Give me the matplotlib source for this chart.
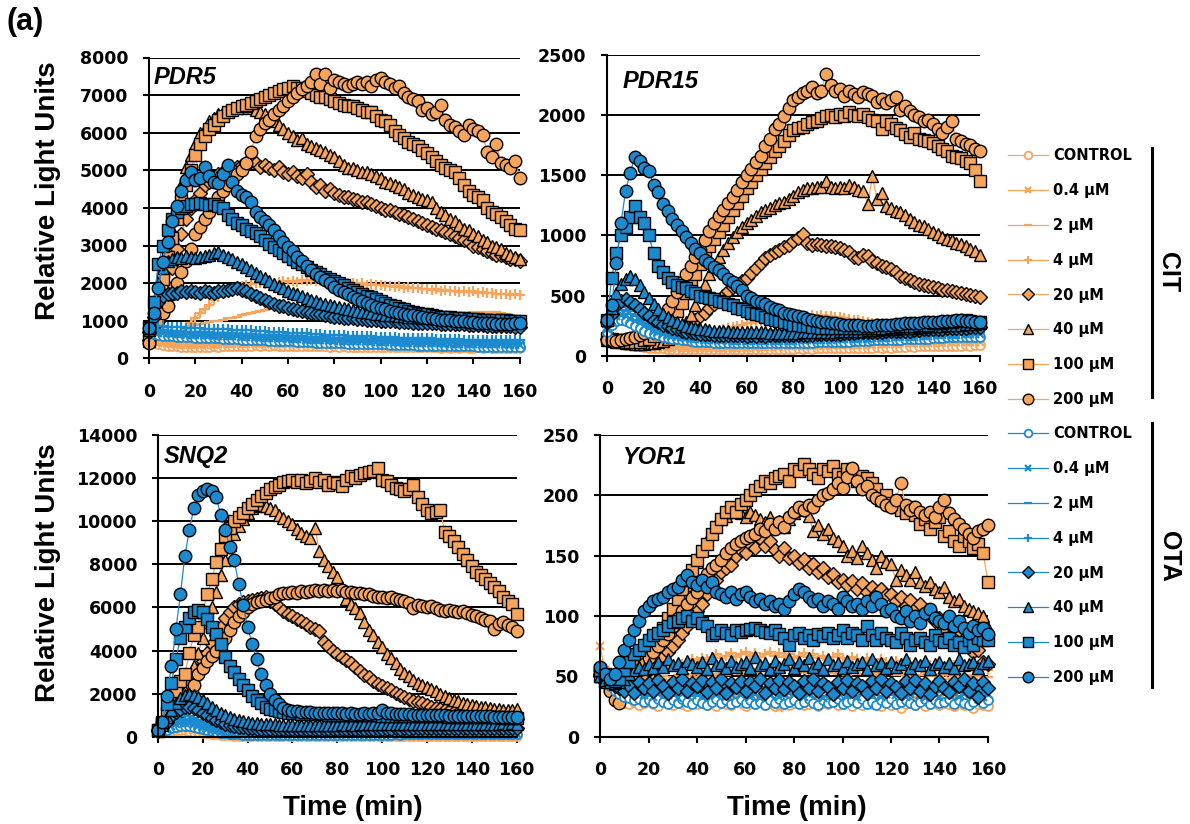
import matplotlib
matplotlib.use('Agg')
import matplotlib.pyplot as plt
from matplotlib.lines import Line2D

plt.rcParams['font.family'] = 'DejaVu Sans'
plt.rcParams['font.weight'] = 'bold'

# reads every 2 min
time_min = list(range(0, 161, 2))
dose_labels = ['CONTROL', '0.4 µM', '2 µM', '4 µM', '20 µM', '40 µM', '100 µM', '200 µM']

# ---------------- PDR5 ----------------
pdr5_cit_control = [
    430, 400, 380, 360, 340, 330, 320, 310, 300, 300,
    300, 310, 300, 310, 320, 310, 320, 330, 320, 330,
    340, 330, 340, 350, 340, 350, 340, 350, 340, 330,
    340, 330, 340, 330, 320, 330, 320, 330, 320, 310,
    320, 310, 320, 310, 300, 310, 300, 310, 300, 300,
    300, 310, 300, 290, 300, 290, 300, 290, 300, 290,
    290, 300, 290, 280, 290, 280, 290, 280, 290, 280,
    280, 290, 280, 290, 280, 270, 280, 270, 280, 270,
    280]
pdr5_cit_04 = [
    480, 450, 420, 400, 380, 370, 360, 360, 350, 350,
    360, 350, 360, 370, 360, 370, 380, 370, 380, 390,
    380, 390, 400, 390, 400, 390, 400, 390, 380, 390,
    380, 390, 380, 370, 380, 370, 360, 370, 360, 350,
    360, 350, 360, 350, 340, 350, 340, 350, 340, 330,
    340, 330, 340, 330, 320, 330, 320, 330, 320, 310,
    320, 310, 320, 310, 300, 310, 300, 310, 300, 300,
    310, 300, 310, 300, 290, 300, 290, 300, 290, 300,
    290]
pdr5_cit_2 = [
    500, 480, 470, 500, 550, 600, 650, 700, 780, 850,
    880, 900, 930, 960, 980, 1000, 1030, 1060, 1080, 1110,
    1140, 1170, 1200, 1230, 1260, 1290, 1300, 1320, 1340, 1360,
    1350, 1360, 1340, 1350, 1330, 1340, 1320, 1330, 1310, 1300,
    1310, 1290, 1300, 1280, 1290, 1270, 1280, 1260, 1270, 1250,
    1260, 1240, 1250, 1230, 1240, 1220, 1230, 1210, 1220, 1200,
    1210, 1190, 1200, 1180, 1190, 1170, 1180, 1200, 1190, 1210,
    1220, 1200, 1230, 1210, 1240, 1220, 1200, 1180, 1150, 1120,
    1100]
pdr5_cit_4 = [
    480, 460, 450, 470, 500, 540, 600, 700, 820, 950,
    1080, 1200, 1320, 1430, 1540, 1630, 1720, 1790, 1850, 1900,
    1920, 1950, 1970, 1990, 2000, 1980, 2010, 2000, 2020, 2050,
    2030, 2060, 2040, 2070, 2050, 2080, 2060, 2050, 2070, 2040,
    2050, 2020, 2030, 2000, 2010, 1980, 1990, 1960, 1970, 1940,
    1950, 1920, 1930, 1900, 1910, 1880, 1890, 1860, 1870, 1840,
    1850, 1820, 1830, 1800, 1810, 1780, 1790, 1760, 1800, 1770,
    1780, 1750, 1760, 1730, 1740, 1710, 1720, 1700, 1690, 1700,
    1680]
pdr5_cit_20 = [
    500, 700, 1000, 1400, 1900, 2400, 2900, 3300, 3700, 4000,
    4200, 4400, 4600, 4700, 4800, 4900, 4950, 5000, 5050, 5100,
    5150, 5200, 5250, 5200, 5100, 5150, 5050, 5000, 5100, 4950,
    4900, 4950, 4850, 4800, 4900, 4700, 4550, 4600, 4450, 4500,
    4400, 4350, 4300, 4300, 4250, 4200, 4150, 4150, 4100, 4050,
    4000, 3950, 3950, 3900, 3850, 3800, 3750, 3700, 3650, 3600,
    3550, 3500, 3450, 3400, 3350, 3300, 3250, 3200, 3150, 3100,
    3000, 2950, 2900, 2850, 2800, 2750, 2750, 2700, 2650, 2650,
    2600]
pdr5_cit_40 = [
    450, 800, 1300, 2000, 2700, 3400, 4000, 4600, 5100, 5400,
    5700, 6000, 6100, 6300, 6400, 6500, 6550, 6600, 6650, 6700,
    6700, 6650, 6700, 6600, 6550, 6500, 6400, 6300, 6200, 6100,
    6000, 5900, 5800, 5850, 5700, 5650, 5600, 5550, 5500, 5400,
    5350, 5250, 5150, 5050, 5050, 5000, 4950, 4950, 4900, 4850,
    4800, 4700, 4650, 4600, 4550, 4500, 4400, 4350, 4300, 4250,
    4200, 4150, 4000, 3900, 3800, 3700, 3650, 3550, 3450, 3400,
    3300, 3250, 3150, 3100, 3000, 2950, 2900, 2800, 2750, 2700,
    2650]
pdr5_cit_100 = [
    500, 900, 1500, 2100, 2700, 3200, 3700, 4200, 4600, 5000,
    5400, 5700, 5900, 6100, 6200, 6350, 6450, 6550, 6600, 6650,
    6700, 6750, 6800, 6850, 6900, 6950, 7000, 7050, 7100, 7150,
    7200, 7250, 7200, 7200, 7100, 7050, 7000, 6950, 6950, 6900,
    6850, 6800, 6750, 6700, 6700, 6650, 6600, 6550, 6550, 6450,
    6350, 6300, 6200, 6050, 5950, 5850, 5750, 5700, 5650, 5550,
    5450, 5350, 5250, 5150, 5050, 5000, 4950, 4800, 4600, 4450,
    4350, 4300, 4200, 4000, 3900, 3850, 3750, 3650, 3550, 3450,
    3400]
pdr5_cit_200 = [
    420, 700, 1000, 1200, 1400, 1700, 2000, 2300, 2600, 2900,
    3300, 3500, 3700, 3900, 4100, 4300, 4450, 4600, 4750, 4900,
    5000, 5200, 5500, 5900, 6100, 6250, 6350, 6500, 6600, 6700,
    6850, 6950, 7050, 7150, 7250, 7350, 7550, 7300, 7550, 7200,
    7400, 7350, 7300, 7250, 7300, 7350, 7300, 7350, 7250, 7400,
    7450, 7350, 7300, 7200, 7250, 7050, 6950, 6900, 6850, 6600,
    6650, 6500, 6550, 6750, 6350, 6200, 6150, 6050, 5950, 6200,
    6100, 6050, 5950, 5500, 5350, 5700, 5200, 5150, 5050, 5250,
    4800]

pdr5_ota_control = [
    700, 650, 620, 600, 590, 580, 570, 570, 560, 560,
    550, 550, 540, 540, 530, 530, 520, 520, 510, 510,
    500, 500, 490, 490, 480, 480, 470, 470, 460, 460,
    450, 450, 440, 440, 430, 430, 420, 420, 410, 410,
    400, 400, 400, 390, 390, 390, 380, 380, 380, 370,
    370, 370, 360, 360, 360, 350, 350, 350, 340, 340,
    340, 340, 330, 330, 330, 330, 320, 320, 320, 320,
    320, 310, 310, 310, 310, 300, 300, 300, 300, 300,
    300]
pdr5_ota_04 = [
    760, 700, 680, 670, 660, 650, 640, 640, 630, 630,
    620, 620, 610, 610, 600, 600, 590, 590, 580, 580,
    570, 570, 560, 560, 550, 550, 540, 540, 530, 530,
    520, 520, 510, 510, 500, 500, 490, 490, 480, 480,
    470, 470, 460, 460, 460, 450, 450, 450, 440, 440,
    440, 430, 430, 430, 420, 420, 420, 410, 410, 410,
    400, 400, 400, 400, 390, 390, 390, 390, 380, 380,
    380, 380, 380, 370, 370, 370, 370, 370, 360, 360,
    360]
pdr5_ota_2 = [
    800, 760, 740, 730, 720, 720, 710, 710, 700, 700,
    690, 690, 680, 680, 670, 670, 660, 660, 650, 650,
    640, 640, 630, 630, 620, 620, 610, 610, 600, 600,
    590, 590, 580, 580, 570, 570, 560, 560, 550, 550,
    540, 540, 530, 530, 520, 520, 510, 510, 500, 500,
    500, 490, 490, 480, 480, 480, 470, 470, 470, 460,
    460, 460, 450, 450, 450, 450, 440, 440, 440, 440,
    430, 430, 430, 430, 420, 420, 420, 420, 420, 410,
    410]
pdr5_ota_4 = [
    850, 880, 860, 850, 840, 830, 830, 820, 810, 810,
    800, 800, 790, 790, 780, 780, 770, 770, 760, 760,
    750, 740, 740, 730, 720, 720, 710, 700, 700, 690,
    680, 680, 670, 660, 660, 650, 640, 640, 630, 620,
    620, 610, 610, 600, 600, 590, 590, 580, 580, 570,
    570, 560, 560, 560, 550, 550, 540, 540, 540, 530,
    530, 530, 520, 520, 520, 510, 510, 510, 500, 500,
    500, 500, 490, 490, 490, 490, 480, 480, 480, 480,
    480]
pdr5_ota_20 = [
    700, 1100, 1500, 1650, 1700, 1750, 1750, 1780, 1760, 1790,
    1770, 1750, 1780, 1760, 1750, 1790, 1800, 1820, 1850, 1870,
    1820, 1780, 1700, 1650, 1600, 1550, 1500, 1450, 1400, 1380,
    1350, 1320, 1290, 1260, 1240, 1210, 1190, 1170, 1150, 1130,
    1110, 1100, 1080, 1070, 1060, 1050, 1040, 1030, 1020, 1010,
    1000, 990, 980, 980, 970, 960, 960, 950, 950, 940,
    940, 930, 930, 920, 920, 910, 910, 900, 900, 890,
    890, 880, 880, 870, 870, 860, 860, 850, 850, 840,
    840]
pdr5_ota_40 = [
    750, 1300, 2000, 2400, 2600, 2650, 2700, 2680, 2720, 2700,
    2680, 2700, 2720, 2750, 2800, 2820, 2750, 2700, 2650, 2550,
    2500, 2420, 2350, 2270, 2200, 2130, 2060, 1980, 1920, 1860,
    1800, 1750, 1700, 1650, 1600, 1560, 1520, 1480, 1450, 1420,
    1390, 1360, 1330, 1300, 1280, 1260, 1240, 1220, 1200, 1190,
    1170, 1160, 1150, 1140, 1130, 1120, 1110, 1100, 1090, 1080,
    1080, 1070, 1060, 1060, 1050, 1050, 1040, 1040, 1030, 1030,
    1020, 1020, 1010, 1010, 1000, 1000, 1000, 990, 990, 980,
    980]
pdr5_ota_100 = [
    800, 1500, 2500, 3000, 3400, 3700, 3900, 4000, 4050, 4100,
    4100, 4120, 4100, 4080, 4100, 4050, 4000, 3800, 3700, 3600,
    3550, 3450, 3380, 3320, 3250, 3150, 3050, 2950, 2880, 2800,
    2720, 2640, 2570, 2500, 2430, 2360, 2300, 2230, 2170, 2110,
    2050, 2000, 1940, 1880, 1820, 1770, 1720, 1670, 1620, 1570,
    1520, 1470, 1420, 1380, 1340, 1300, 1270, 1240, 1210, 1190,
    1170, 1150, 1130, 1110, 1100, 1090, 1080, 1070, 1060, 1050,
    1040, 1040, 1030, 1030, 1020, 1020, 1010, 1010, 1000, 1000,
    1000]
pdr5_ota_200 = [
    800, 1200, 1870, 2560, 3100, 3650, 4050, 4450, 4750, 4950,
    4750, 4800, 5100, 4850, 4700, 4650, 4900, 5150, 4700, 4450,
    4350, 4300, 4150, 3900, 3750, 3650, 3550, 3400, 3250, 3100,
    2950, 2850, 2700, 2600, 2450, 2350, 2250, 2150, 2080, 2000,
    1900, 1820, 1760, 1700, 1640, 1580, 1520, 1470, 1420, 1370,
    1340, 1300, 1270, 1240, 1210, 1180, 1160, 1140, 1120, 1100,
    1080, 1060, 1050, 1030, 1020, 1010, 1000, 990, 980, 970,
    960, 950, 940, 930, 930, 920, 910, 900, 900, 940,
    950]

# ---------------- PDR15 ----------------
pdr15_cit_control = [
    130, 120, 110, 100, 95, 90, 85, 80, 75, 70,
    70, 65, 65, 60, 60, 60, 55, 55, 55, 55,
    55, 55, 55, 55, 55, 55, 55, 55, 55, 55,
    55, 60, 55, 60, 55, 60, 55, 60, 60, 60,
    60, 65, 60, 65, 60, 65, 65, 65, 65, 65,
    65, 70, 65, 70, 70, 70, 70, 70, 75, 70,
    75, 70, 75, 75, 75, 80, 75, 80, 80, 80,
    80, 85, 80, 85, 85, 85, 85, 90, 85, 90,
    90]
pdr15_cit_04 = [
    150, 140, 130, 120, 110, 100, 95, 90, 85, 80,
    80, 75, 75, 70, 70, 70, 65, 65, 65, 65,
    65, 65, 65, 70, 65, 70, 65, 70, 70, 70,
    70, 75, 70, 75, 75, 75, 80, 75, 80, 80,
    80, 85, 80, 85, 85, 85, 90, 85, 90, 90,
    90, 95, 90, 95, 95, 95, 100, 95, 100, 100,
    100, 105, 100, 105, 105, 105, 110, 105, 110, 110,
    110, 115, 110, 115, 115, 115, 120, 115, 120, 120,
    120]
pdr15_cit_2 = [
    160, 155, 150, 140, 130, 120, 110, 100, 95, 90,
    85, 85, 80, 80, 80, 80, 80, 80, 80, 85,
    85, 85, 90, 90, 95, 95, 100, 100, 105, 105,
    110, 110, 115, 115, 120, 120, 125, 125, 130, 130,
    130, 135, 135, 135, 140, 140, 140, 140, 140, 140,
    140, 140, 140, 140, 140, 140, 140, 135, 140, 135,
    135, 135, 130, 135, 130, 130, 130, 130, 130, 130,
    130, 130, 130, 130, 130, 130, 130, 130, 130, 130,
    130]
pdr15_cit_4 = [
    150, 140, 130, 120, 110, 100, 95, 90, 90, 90,
    90, 95, 100, 105, 110, 120, 130, 140, 150, 160,
    170, 180, 190, 200, 210, 220, 230, 240, 250, 260,
    270, 275, 280, 290, 295, 300, 305, 310, 315, 320,
    325, 330, 335, 330, 340, 335, 340, 330, 335, 325,
    320, 315, 310, 300, 295, 290, 280, 275, 270, 260,
    255, 250, 245, 240, 235, 230, 225, 220, 215, 210,
    210, 205, 200, 200, 195, 195, 190, 190, 185, 185,
    180]
pdr15_cit_20 = [
    140, 135, 130, 125, 120, 115, 110, 105, 105, 110,
    115, 125, 140, 155, 170, 185, 200, 230, 260, 295,
    330, 360, 395, 430, 465, 500, 535, 570, 600, 620,
    650, 690, 730, 770, 810, 840, 860, 880, 900, 920,
    950, 980, 1010, 940, 920, 930, 920, 910, 915, 905,
    895, 880, 860, 820, 810, 840, 830, 790, 770, 750,
    740, 720, 700, 660, 650, 630, 610, 600, 590, 580,
    570, 560, 550, 545, 540, 530, 520, 510, 505, 500,
    490]
pdr15_cit_40 = [
    130, 125, 120, 115, 110, 105, 100, 100, 100, 105,
    110, 115, 125, 140, 160, 190, 230, 280, 340, 420,
    510, 600, 680, 750, 820, 880, 940, 990, 1030, 1070,
    1100, 1130, 1160, 1190, 1210, 1230, 1250, 1270, 1280, 1300,
    1330, 1360, 1380, 1390, 1390, 1400, 1400, 1450, 1400, 1390,
    1400, 1390, 1420, 1400, 1380, 1370, 1260, 1490, 1300, 1350,
    1240, 1230, 1200, 1190, 1170, 1140, 1110, 1090, 1080, 1050,
    1030, 1010, 990, 970, 960, 940, 930, 910, 890, 870,
    840]
pdr15_cit_100 = [
    150, 140, 130, 125, 120, 115, 115, 120, 130, 145,
    165, 190, 220, 260, 310, 370, 440, 520, 600, 680,
    760, 840, 910, 970, 1030, 1090, 1150, 1210, 1270, 1330,
    1390, 1440, 1500, 1550, 1600, 1650, 1700, 1740, 1780, 1830,
    1870, 1890, 1900, 1920, 1940, 1950, 1970, 1990, 2000, 1980,
    2010, 1990, 2020, 2000, 1990, 2010, 1980, 1960, 1950, 1880,
    1950, 1920, 1890, 1870, 1840, 1820, 1850, 1800, 1790, 1780,
    1770, 1740, 1720, 1700, 1660, 1650, 1640, 1620, 1600, 1540,
    1450]
pdr15_cit_200 = [
    130, 130, 125, 130, 140, 150, 160, 170, 190, 210,
    240, 280, 330, 390, 460, 530, 610, 680, 750, 820,
    880, 960, 1040, 1100, 1160, 1210, 1270, 1320, 1380, 1440,
    1500, 1550, 1610, 1660, 1740, 1800, 1880, 1920, 1990, 2060,
    2120, 2150, 2180, 2200, 2230, 2180, 2200, 2340, 2250, 2200,
    2210, 2160, 2200, 2170, 2150, 2190, 2170, 2160, 2110, 2130,
    2100, 2120, 2150, 2040, 2070, 2030, 2000, 1980, 1950, 1960,
    1920, 1880, 1850, 1900, 1950, 1800, 1780, 1760, 1750, 1720,
    1700]

pdr15_ota_control = [
    200, 260, 290, 300, 290, 270, 250, 230, 210, 190,
    180, 170, 160, 150, 145, 140, 135, 130, 125, 120,
    120, 115, 115, 110, 110, 110, 105, 105, 105, 105,
    105, 105, 105, 105, 105, 105, 105, 105, 105, 105,
    105, 110, 110, 110, 110, 115, 115, 115, 115, 120,
    120, 120, 120, 125, 125, 125, 125, 130, 130, 130,
    130, 135, 135, 135, 140, 140, 140, 145, 145, 145,
    150, 150, 150, 155, 155, 155, 160, 160, 160, 160,
    160]
pdr15_ota_04 = [
    220, 290, 330, 340, 330, 310, 290, 270, 250, 230,
    210, 195, 185, 175, 165, 160, 155, 150, 145, 140,
    140, 135, 135, 130, 130, 130, 125, 125, 125, 125,
    125, 125, 125, 125, 125, 125, 125, 125, 125, 125,
    125, 130, 130, 130, 130, 135, 135, 135, 135, 140,
    140, 140, 140, 145, 145, 145, 145, 150, 150, 150,
    150, 155, 155, 155, 160, 160, 160, 165, 165, 165,
    170, 170, 170, 175, 175, 175, 180, 180, 180, 180,
    180]
pdr15_ota_2 = [
    240, 320, 360, 380, 370, 350, 330, 300, 280, 260,
    240, 220, 205, 195, 185, 180, 175, 170, 165, 160,
    155, 155, 150, 150, 145, 145, 145, 140, 140, 140,
    140, 140, 140, 140, 140, 140, 140, 140, 140, 140,
    140, 145, 145, 145, 145, 150, 150, 150, 150, 155,
    155, 155, 155, 160, 160, 160, 160, 165, 165, 165,
    165, 170, 170, 170, 175, 175, 175, 180, 180, 180,
    185, 185, 185, 190, 190, 190, 195, 195, 195, 195,
    195]
pdr15_ota_4 = [
    260, 350, 400, 420, 410, 390, 370, 340, 310, 290,
    270, 250, 235, 220, 210, 200, 195, 190, 185, 180,
    175, 175, 170, 170, 165, 165, 165, 160, 160, 160,
    160, 160, 160, 160, 160, 160, 160, 160, 160, 160,
    160, 165, 165, 165, 165, 170, 170, 170, 170, 175,
    175, 175, 175, 180, 180, 180, 180, 185, 185, 185,
    185, 190, 190, 190, 195, 195, 195, 200, 200, 200,
    205, 205, 205, 210, 210, 210, 215, 215, 215, 215,
    215]
pdr15_ota_20 = [
    280, 350, 420, 460, 470, 450, 420, 390, 360, 330,
    300, 280, 260, 245, 230, 220, 210, 200, 195, 190,
    185, 180, 180, 175, 175, 170, 170, 170, 170, 170,
    165, 170, 165, 170, 165, 170, 170, 170, 170, 170,
    170, 175, 175, 175, 175, 180, 180, 180, 185, 185,
    185, 190, 190, 190, 195, 195, 195, 200, 200, 200,
    205, 205, 205, 210, 210, 210, 215, 215, 220, 220,
    220, 225, 225, 230, 230, 230, 235, 235, 240, 240,
    240]
pdr15_ota_40 = [
    300, 400, 520, 600, 640, 660, 640, 590, 530, 480,
    430, 390, 350, 320, 300, 280, 265, 250, 240, 230,
    225, 220, 215, 210, 210, 205, 205, 200, 200, 200,
    200, 195, 195, 195, 195, 190, 190, 190, 190, 190,
    190, 190, 195, 195, 195, 195, 200, 200, 200, 200,
    205, 205, 205, 210, 210, 210, 215, 215, 215, 220,
    220, 225, 225, 230, 230, 235, 235, 240, 240, 245,
    245, 250, 250, 255, 255, 260, 260, 265, 265, 265,
    270]
pdr15_ota_100 = [
    300, 650, 850, 1000, 1070, 1150, 1240, 1150, 1100, 1000,
    850, 750, 700, 650, 610, 590, 570, 560, 540, 520,
    500, 490, 480, 470, 460, 450, 430, 420, 400, 390,
    370, 360, 350, 340, 320, 310, 300, 290, 280, 270,
    260, 255, 250, 245, 240, 240, 235, 235, 230, 230,
    230, 230, 230, 230, 230, 230, 230, 235, 235, 235,
    235, 240, 240, 245, 245, 250, 250, 255, 260, 260,
    270, 270, 275, 280, 285, 290, 290, 295, 290, 285,
    280]
pdr15_ota_200 = [
    300, 420, 770, 1100, 1370, 1520, 1650, 1620, 1560, 1530,
    1420, 1360, 1260, 1200, 1140, 1090, 1040, 990, 940, 890,
    850, 800, 770, 740, 710, 680, 640, 610, 580, 550,
    500, 480, 460, 450, 430, 410, 390, 380, 360, 350,
    340, 330, 320, 310, 300, 290, 285, 280, 275, 270,
    265, 260, 260, 255, 255, 250, 250, 250, 255, 255,
    260, 260, 265, 265, 270, 270, 275, 275, 280, 280,
    285, 285, 290, 290, 290, 295, 295, 290, 290, 285,
    285]

# ---------------- SNQ2 ----------------
snq2_cit_control = [
    150, 180, 220, 260, 290, 300, 290, 270, 240, 210,
    180, 150, 125, 105, 90, 75, 65, 55, 50, 45,
    40, 40, 35, 35, 35, 30, 30, 30, 30, 30,
    30, 28, 30, 29, 31, 30, 28, 30, 29, 30,
    31, 29, 30, 28, 30, 31, 29, 30, 28, 30,
    29, 31, 30, 28, 30, 29, 30, 31, 29, 30,
    28, 30, 31, 29, 30, 28, 30, 29, 31, 30,
    28, 30, 29, 30, 31, 29, 30, 28, 30, 31,
    30]
snq2_cit_04 = [
    150, 200, 260, 320, 380, 410, 400, 370, 330, 280,
    240, 200, 165, 135, 110, 90, 75, 65, 55, 50,
    45, 45, 40, 40, 40, 35, 35, 35, 35, 35,
    35, 36, 34, 35, 37, 35, 34, 36, 35, 34,
    36, 35, 34, 35, 36, 34, 35, 37, 35, 34,
    35, 36, 34, 35, 35, 37, 34, 36, 35, 34,
    36, 35, 34, 35, 37, 35, 34, 36, 35, 34,
    35, 36, 34, 35, 37, 35, 34, 36, 35, 35,
    35]
snq2_cit_2 = [
    160, 220, 300, 390, 480, 540, 550, 520, 460, 390,
    330, 270, 220, 180, 145, 115, 95, 80, 70, 60,
    55, 50, 50, 45, 45, 45, 40, 40, 40, 40,
    40, 42, 39, 41, 40, 42, 39, 40, 41, 40,
    42, 40, 39, 41, 40, 42, 40, 39, 41, 40,
    40, 42, 39, 41, 40, 42, 40, 39, 41, 40,
    42, 40, 39, 41, 40, 42, 40, 39, 41, 40,
    40, 42, 39, 41, 40, 42, 40, 39, 41, 40,
    40]
snq2_cit_4 = [
    170, 250, 350, 470, 590, 680, 700, 660, 590, 510,
    430, 360, 295, 240, 195, 155, 125, 100, 85, 75,
    65, 60, 55, 55, 50, 50, 50, 45, 45, 45,
    45, 47, 44, 46, 45, 47, 44, 46, 45, 47,
    46, 44, 47, 45, 46, 44, 47, 45, 46, 44,
    47, 45, 46, 44, 47, 45, 46, 44, 47, 45,
    46, 44, 47, 45, 46, 44, 47, 45, 46, 44,
    47, 45, 46, 44, 47, 45, 46, 44, 47, 45,
    46]
snq2_cit_20 = [
    300, 400, 600, 900, 1200, 1500, 1900, 2300, 2700, 3100,
    3500, 3900, 4300, 4700, 5100, 5500, 5800, 6000, 6150, 6250,
    6300, 6350, 6400, 6450, 6500, 6300, 6150, 6000, 5850, 5700,
    5600, 5450, 5350, 5250, 5100, 5000, 4900, 4400, 4200, 4000,
    3850, 3700, 3550, 3400, 3250, 3050, 2850, 2750, 2600, 2450,
    2350, 2250, 2150, 2050, 1950, 1850, 1750, 1650, 1600, 1550,
    1450, 1400, 1350, 1300, 1250, 1200, 1150, 1100, 1060, 1030,
    1000, 980, 960, 940, 920, 900, 890, 870, 860, 850,
    840]
snq2_cit_40 = [
    300, 400, 600, 900, 1200, 1600, 2100, 2700, 3300, 3900,
    4600, 5300, 6000, 6700, 7500, 8200, 8900, 9400, 9800, 10100,
    10400, 10600, 10700, 10750, 10700, 10600, 10500, 10300, 10150, 10000,
    9850, 9650, 9450, 9300, 9200, 9700, 8600, 8200, 7900, 7650,
    7400, 6900, 6400, 6150, 5950, 5750, 5300, 4950, 4700, 4400,
    4150, 3850, 3650, 3400, 3150, 2950, 2800, 2650, 2500, 2400,
    2300, 2200, 2100, 2000, 1900, 1800, 1720, 1650, 1580, 1520,
    1470, 1420, 1390, 1360, 1330, 1300, 1280, 1260, 1250, 1230,
    1300]
snq2_cit_100 = [
    300, 600, 1100, 1600, 2100, 2600, 2900, 3900, 4700, 5100,
    5800, 6600, 7300, 8100, 8700, 9300, 9700, 10000, 10200, 10400,
    10600, 10800, 11000, 11150, 11300, 11500, 11600, 11700, 11800, 11850,
    11900, 11800, 11900, 11750, 11850, 12000, 11800, 11900, 11700, 11800,
    11750, 11650, 11900, 12100, 12000, 12150, 12250, 12300, 12350, 12450,
    11900, 11850, 11700, 11550, 11500, 11400, 11500, 11700, 11100, 10800,
    10500, 10400, 10450, 10500, 9500, 9300, 9100, 8800, 8500, 8200,
    7900, 7650, 7500, 7300, 7150, 6950, 6750, 6500, 6300, 6150,
    5700]
snq2_cit_200 = [
    300, 400, 550, 750, 950, 1200, 1500, 1900, 2400, 2900,
    3200, 3500, 3750, 4000, 4300, 4600, 4950, 5300, 5600, 5800,
    6000, 6150, 6250, 6300, 6350, 6450, 6500, 6600, 6650, 6650,
    6700, 6680, 6750, 6720, 6780, 6800, 6750, 6820, 6780, 6800,
    6750, 6800, 6720, 6700, 6650, 6680, 6600, 6620, 6550, 6500,
    6480, 6450, 6500, 6400, 6350, 6300, 6200, 5950, 6100, 6050,
    6000, 6050, 5950, 5900, 5850, 5900, 5850, 5800, 5850, 5750,
    5650, 5600, 5500, 5400, 5350, 5000, 5250, 5300, 5200, 5100,
    4900]

snq2_ota_control = [
    200, 260, 330, 400, 450, 490, 500, 480, 440, 390,
    340, 290, 250, 210, 180, 155, 135, 120, 110, 100,
    95, 90, 90, 90, 90, 90, 90, 90, 90, 90,
    90, 92, 91, 93, 92, 94, 93, 95, 94, 96,
    95, 97, 96, 98, 97, 99, 98, 100, 99, 101,
    100, 102, 101, 103, 102, 104, 103, 105, 104, 106,
    105, 107, 106, 108, 107, 109, 108, 110, 109, 111,
    110, 112, 111, 113, 112, 114, 113, 115, 114, 116,
    115]
snq2_ota_04 = [
    220, 300, 400, 500, 580, 630, 650, 620, 570, 500,
    430, 370, 310, 260, 220, 190, 165, 145, 130, 120,
    115, 110, 110, 110, 110, 110, 110, 110, 110, 110,
    110, 112, 111, 113, 112, 114, 113, 115, 114, 116,
    115, 117, 116, 118, 117, 119, 118, 120, 119, 121,
    120, 122, 121, 123, 122, 124, 123, 125, 124, 126,
    125, 127, 126, 128, 127, 129, 128, 130, 129, 131,
    130, 132, 131, 133, 132, 134, 133, 135, 134, 136,
    135]
snq2_ota_2 = [
    240, 340, 460, 580, 690, 770, 800, 770, 700, 620,
    530, 450, 380, 320, 270, 230, 200, 175, 155, 145,
    135, 130, 130, 130, 130, 130, 130, 130, 130, 130,
    130, 132, 131, 133, 132, 134, 133, 135, 134, 136,
    135, 137, 136, 138, 137, 139, 138, 140, 139, 141,
    140, 142, 141, 143, 142, 144, 143, 145, 144, 146,
    145, 147, 146, 148, 147, 149, 148, 150, 149, 151,
    150, 152, 151, 153, 152, 154, 153, 155, 154, 156,
    155]
snq2_ota_4 = [
    260, 380, 520, 670, 820, 940, 1000, 960, 880, 780,
    670, 570, 480, 400, 340, 290, 250, 220, 195, 180,
    170, 165, 160, 160, 160, 160, 160, 160, 160, 160,
    160, 162, 161, 163, 162, 164, 163, 165, 164, 166,
    165, 167, 166, 168, 167, 169, 168, 170, 169, 171,
    170, 172, 171, 173, 172, 174, 173, 175, 174, 176,
    175, 177, 176, 178, 177, 179, 178, 180, 179, 181,
    180, 182, 181, 183, 182, 184, 183, 185, 184, 186,
    185]
snq2_ota_20 = [
    280, 450, 700, 950, 1150, 1300, 1380, 1400, 1350, 1250,
    1120, 1000, 880, 780, 690, 610, 550, 500, 460, 430,
    410, 390, 380, 370, 360, 360, 350, 350, 350, 350,
    350, 355, 350, 360, 355, 360, 355, 365, 360, 365,
    360, 370, 365, 370, 365, 375, 370, 375, 370, 380,
    375, 380, 375, 385, 380, 385, 380, 390, 385, 390,
    385, 395, 390, 395, 390, 400, 395, 400, 395, 405,
    400, 405, 400, 410, 405, 410, 405, 415, 410, 415,
    410]
snq2_ota_40 = [
    300, 550, 900, 1250, 1550, 1800, 1950, 2000, 1950, 1850,
    1700, 1550, 1400, 1250, 1120, 1000, 900, 820, 760, 710,
    670, 640, 620, 600, 590, 580, 570, 560, 560, 550,
    550, 555, 550, 560, 555, 560, 555, 565, 560, 565,
    560, 570, 565, 570, 565, 575, 570, 575, 570, 580,
    575, 580, 575, 585, 580, 585, 580, 590, 585, 590,
    585, 595, 590, 595, 590, 600, 595, 600, 595, 605,
    600, 605, 600, 610, 605, 610, 605, 615, 610, 615,
    610]
snq2_ota_100 = [
    300, 700, 1500, 2500, 3600, 4600, 5100, 5500, 5800, 5900,
    5800, 5450, 5100, 4750, 4300, 3700, 3300, 3000, 2700, 2400,
    2150, 1900, 1700, 1550, 1400, 1300, 1250, 1200, 1150, 1100,
    1100, 1080, 1070, 1060, 1050, 1050, 1040, 1040, 1030, 1030,
    1020, 1020, 1010, 1010, 1000, 1000, 1000, 990, 990, 990,
    980, 980, 980, 970, 970, 970, 960, 960, 960, 950,
    950, 950, 940, 940, 940, 930, 930, 930, 920, 920,
    920, 910, 910, 910, 900, 900, 900, 890, 890, 890,
    880]
snq2_ota_200 = [
    300, 700, 1900, 3300, 5000, 6600, 8400, 9600, 10600, 11200,
    11400, 11500, 11400, 11100, 10300, 9600, 8800, 8200, 7100, 6100,
    5100, 4300, 3600, 2900, 2400, 2000, 1700, 1500, 1350, 1250,
    1200, 1180, 1150, 1150, 1130, 1120, 1110, 1100, 1100, 1090,
    1080, 1080, 1070, 1080, 1070, 1070, 1080, 1070, 1090, 1100,
    1250, 1100, 1080, 1070, 1060, 1050, 1040, 1030, 1030, 1020,
    1020, 1010, 1000, 1000, 990, 980, 980, 970, 970, 960,
    960, 950, 950, 940, 940, 930, 930, 920, 920, 910,
    900]

# ---------------- YOR1 ----------------
yor1_cit_control = [
    55, 45, 38, 33, 30, 28, 27, 29, 26, 28,
    30, 27, 25, 29, 28, 26, 30, 27, 25, 28,
    27, 30, 26, 28, 25, 29, 27, 26, 30, 28,
    25, 28, 27, 30, 26, 28, 25, 29, 27, 26,
    28, 30, 26, 27, 29, 25, 28, 27, 30, 26,
    27, 29, 25, 28, 26, 30, 27, 28, 25, 29,
    26, 28, 24, 27, 29, 26, 28, 25, 27, 30,
    26, 28, 27, 25, 29, 26, 28, 24, 27, 26,
    25]
yor1_cit_04 = [
    75, 55, 45, 40, 38, 35, 33, 36, 32, 35,
    34, 31, 36, 33, 30, 35, 32, 34, 31, 36,
    33, 30, 35, 32, 34, 36, 31, 33, 35, 30,
    34, 32, 36, 31, 33, 35, 30, 24, 34, 32,
    36, 33, 31, 35, 32, 34, 30, 36, 33, 31,
    35, 32, 34, 31, 36, 33, 30, 35, 32, 34,
    31, 36, 33, 30, 35, 32, 34, 31, 36, 33,
    30, 35, 32, 34, 31, 36, 33, 30, 35, 32,
    34]
yor1_cit_2 = [
    50, 48, 45, 44, 45, 47, 46, 48, 45, 47,
    49, 46, 48, 50, 47, 49, 51, 48, 50, 52,
    49, 51, 53, 50, 52, 54, 51, 53, 55, 52,
    54, 56, 53, 55, 57, 54, 56, 53, 55, 57,
    54, 56, 53, 55, 52, 54, 56, 53, 55, 52,
    54, 51, 53, 55, 52, 54, 51, 53, 50, 52,
    54, 51, 53, 50, 52, 49, 51, 53, 50, 52,
    49, 51, 48, 50, 52, 49, 51, 48, 50, 47,
    49]
yor1_cit_4 = [
    60, 55, 50, 48, 47, 48, 50, 52, 51, 53,
    55, 54, 56, 58, 57, 59, 61, 60, 62, 64,
    63, 65, 64, 66, 68, 65, 67, 69, 66, 68,
    70, 67, 69, 66, 68, 70, 67, 69, 66, 68,
    65, 67, 69, 66, 68, 65, 67, 64, 66, 68,
    65, 63, 66, 64, 62, 65, 63, 61, 64, 62,
    60, 63, 61, 59, 62, 60, 58, 61, 59, 57,
    60, 58, 56, 59, 57, 55, 58, 56, 54, 57,
    55]
yor1_cit_20 = [
    50, 45, 42, 40, 40, 42, 45, 48, 50, 52,
    55, 58, 62, 66, 70, 75, 80, 86, 92, 98,
    104, 110, 118, 125, 130, 136, 140, 142, 150, 155,
    152, 160, 156, 165, 158, 162, 155, 150, 156, 148,
    150, 144, 147, 140, 143, 136, 140, 132, 135, 128,
    130, 126, 129, 122, 127, 120, 124, 118, 122, 117,
    118, 112, 116, 108, 113, 106, 110, 101, 104, 96,
    98, 90, 93, 84, 88, 78, 80, 70, 72, 62,
    60]
yor1_cit_40 = [
    50, 48, 45, 45, 46, 48, 50, 55, 60, 65,
    70, 76, 82, 88, 95, 102, 110, 118, 126, 135,
    145, 155, 163, 170, 176, 180, 183, 186, 188, 185,
    182, 186, 184, 180, 178, 182, 176, 179, 174, 180,
    185, 188, 190, 183, 170, 175, 168, 172, 165, 162,
    158, 150, 154, 148, 158, 152, 146, 140, 150, 145,
    143, 130, 138, 134, 130, 136, 128, 125, 128, 122,
    120, 124, 116, 112, 114, 108, 106, 104, 102, 100,
    90]
yor1_cit_100 = [
    50, 45, 42, 42, 44, 46, 50, 55, 60, 65,
    70, 76, 82, 90, 98, 106, 114, 122, 130, 138,
    146, 154, 160, 168, 174, 180, 186, 190, 186, 193,
    196, 200, 204, 208, 212, 210, 214, 216, 218, 212,
    222, 220, 226, 222, 218, 214, 222, 220, 224, 218,
    215, 222, 218, 212, 216, 214, 210, 205, 196, 200,
    194, 190, 188, 185, 190, 184, 176, 180, 172, 178,
    182, 166, 170, 162, 158, 166, 162, 156, 160, 152,
    128]
yor1_cit_200 = [
    55, 45, 38, 30, 28, 35, 42, 50, 55, 60,
    65, 70, 75, 80, 85, 92, 98, 104, 110, 115,
    120, 128, 135, 140, 142, 146, 152, 156, 160, 162,
    165, 166, 168, 172, 170, 176, 172, 178, 174, 182,
    186, 190, 188, 192, 190, 196, 200, 202, 205, 210,
    206, 215, 223, 212, 205, 208, 200, 198, 195, 192,
    190, 196, 210, 192, 188, 190, 186, 184, 186, 182,
    190, 196, 185, 180, 176, 172, 168, 165, 170, 172,
    175]

yor1_ota_control = [
    55, 48, 42, 38, 35, 33, 32, 30, 31, 29,
    30, 28, 31, 29, 27, 30, 28, 31, 29, 27,
    30, 28, 26, 29, 31, 28, 30, 27, 29, 31,
    28, 30, 27, 29, 26, 30, 28, 31, 27, 29,
    30, 27, 29, 31, 28, 26, 30, 28, 29, 31,
    27, 29, 30, 28, 31, 27, 29, 26, 30, 28,
    31, 27, 29, 30, 28, 26, 29, 31, 27, 30,
    28, 29, 31, 27, 30, 28, 26, 29, 31, 28,
    30]
yor1_ota_04 = [
    55, 50, 45, 42, 40, 38, 37, 35, 36, 34,
    36, 33, 35, 37, 34, 36, 32, 35, 37, 34,
    36, 33, 35, 38, 34, 36, 33, 35, 37, 34,
    36, 33, 35, 32, 36, 34, 37, 33, 35, 36,
    34, 37, 33, 35, 36, 34, 32, 36, 35, 33,
    37, 34, 36, 33, 35, 37, 34, 36, 33, 35,
    36, 34, 37, 33, 35, 36, 34, 32, 36, 35,
    33, 37, 34, 36, 33, 35, 37, 34, 36, 33,
    35]
yor1_ota_2 = [
    56, 52, 48, 45, 43, 41, 40, 38, 39, 37,
    39, 36, 38, 40, 37, 39, 36, 38, 40, 37,
    39, 37, 40, 38, 36, 39, 41, 38, 37, 40,
    38, 36, 39, 41, 37, 39, 38, 36, 40, 38,
    37, 40, 38, 36, 39, 41, 37, 39, 38, 36,
    40, 38, 37, 40, 38, 36, 39, 41, 37, 39,
    38, 36, 40, 38, 37, 40, 38, 36, 39, 41,
    37, 39, 38, 36, 40, 38, 37, 40, 38, 36,
    39]
yor1_ota_4 = [
    58, 54, 50, 47, 45, 43, 42, 41, 42, 40,
    42, 39, 41, 43, 40, 42, 39, 41, 44, 40,
    42, 40, 43, 41, 39, 42, 44, 41, 40, 43,
    41, 39, 42, 44, 40, 42, 41, 39, 43, 41,
    40, 43, 41, 39, 42, 44, 40, 42, 41, 39,
    43, 41, 40, 43, 41, 39, 42, 44, 40, 42,
    41, 39, 43, 41, 40, 43, 41, 39, 42, 44,
    40, 42, 41, 39, 43, 41, 40, 43, 41, 39,
    42]
yor1_ota_20 = [
    52, 48, 44, 42, 40, 38, 42, 36, 45, 40,
    44, 38, 47, 42, 36, 45, 40, 48, 38, 44,
    42, 47, 37, 45, 40, 48, 36, 44, 41, 46,
    38, 45, 42, 48, 36, 44, 40, 47, 39, 45,
    42, 36, 46, 40, 48, 38, 44, 41, 35, 45,
    40, 47, 38, 44, 42, 36, 46, 40, 48, 38,
    44, 41, 36, 46, 40, 47, 38, 44, 35, 42,
    46, 40, 37, 45, 42, 48, 38, 44, 33, 45,
    40]
yor1_ota_40 = [
    50, 47, 45, 44, 45, 48, 52, 55, 58, 56,
    60, 57, 62, 58, 64, 59, 61, 57, 63, 60,
    58, 62, 56, 65, 59, 61, 57, 63, 58, 60,
    62, 57, 66, 59, 61, 56, 63, 58, 60, 64,
    57, 62, 59, 65, 58, 61, 56, 64, 59, 61,
    57, 63, 58, 60, 62, 56, 64, 59, 61, 57,
    62, 58, 60, 64, 57, 61, 59, 63, 56, 60,
    62, 58, 61, 57, 64, 59, 60, 62, 57, 61,
    63]
yor1_ota_100 = [
    55, 52, 48, 46, 48, 55, 62, 68, 72, 76,
    80, 84, 86, 88, 92, 95, 96, 98, 100, 96,
    98, 94, 92, 84, 86, 88, 86, 84, 88, 87,
    88, 89, 90, 88, 87, 86, 88, 85, 82, 76,
    84, 86, 82, 84, 80, 85, 83, 86, 82, 84,
    88, 82, 86, 84, 80, 92, 84, 80, 86, 82,
    80, 78, 86, 82, 76, 80, 82, 78, 76, 84,
    80, 78, 82, 76, 78, 74, 80, 76, 82, 80,
    80]
yor1_ota_200 = [
    58, 52, 48, 52, 62, 72, 80, 88, 96, 104,
    108, 112, 114, 116, 120, 122, 124, 130, 134, 128,
    126, 130, 124, 128, 120, 118, 116, 120, 114, 118,
    120, 116, 112, 114, 110, 112, 108, 110, 106, 112,
    118, 122, 120, 116, 112, 114, 108, 112, 110, 106,
    116, 112, 108, 110, 106, 112, 108, 116, 110, 104,
    106, 100, 98, 104, 96, 100, 94, 102, 106, 98,
    96, 94, 100, 92, 96, 90, 86, 92, 88, 90,
    85]

pdr5_cit = [pdr5_cit_control, pdr5_cit_04, pdr5_cit_2, pdr5_cit_4,
            pdr5_cit_20, pdr5_cit_40, pdr5_cit_100, pdr5_cit_200]
pdr5_ota = [pdr5_ota_control, pdr5_ota_04, pdr5_ota_2, pdr5_ota_4,
            pdr5_ota_20, pdr5_ota_40, pdr5_ota_100, pdr5_ota_200]
pdr15_cit = [pdr15_cit_control, pdr15_cit_04, pdr15_cit_2, pdr15_cit_4,
             pdr15_cit_20, pdr15_cit_40, pdr15_cit_100, pdr15_cit_200]
pdr15_ota = [pdr15_ota_control, pdr15_ota_04, pdr15_ota_2, pdr15_ota_4,
             pdr15_ota_20, pdr15_ota_40, pdr15_ota_100, pdr15_ota_200]
snq2_cit = [snq2_cit_control, snq2_cit_04, snq2_cit_2, snq2_cit_4,
            snq2_cit_20, snq2_cit_40, snq2_cit_100, snq2_cit_200]
snq2_ota = [snq2_ota_control, snq2_ota_04, snq2_ota_2, snq2_ota_4,
            snq2_ota_20, snq2_ota_40, snq2_ota_100, snq2_ota_200]
yor1_cit = [yor1_cit_control, yor1_cit_04, yor1_cit_2, yor1_cit_4,
            yor1_cit_20, yor1_cit_40, yor1_cit_100, yor1_cit_200]
yor1_ota = [yor1_ota_control, yor1_ota_04, yor1_ota_2, yor1_ota_4,
            yor1_ota_20, yor1_ota_40, yor1_ota_100, yor1_ota_200]

ORANGE = '#F7A45C'
BLUE = '#1C8ACF'

# marker, size, how it is filled
dose_style = [
    ('o', 6.5, 'open'),
    ('x', 5.5, 'line'),
    ('_', 6.5, 'line'),
    ('+', 7.5, 'line'),
    ('D', 7.5, 'fill'),
    ('^', 9.0, 'fill'),
    ('s', 8.0, 'fill'),
    ('o', 9.0, 'fill'),
]

W, H = 1190, 824
fig = plt.figure(figsize=(W / 100, H / 100), dpi=100)


def px_axes(left, top, right, bottom):
    return fig.add_axes([left / W, 1 - bottom / H, (right - left) / W, (bottom - top) / H])


def draw_series(ax, values, color, style):
    marker, size, kind = style
    kw = dict(color=color, lw=0.9, marker=marker, ms=size, clip_on=False)
    if kind == 'open':
        kw.update(mfc='white', mec=color, mew=1.3)
    elif kind == 'line':
        kw.update(mec=color, mew=1.6)
    else:
        kw.update(mfc=color, mec='black', mew=1.0)
    return ax.plot(time_min, values, **kw)[0]


panels = [
    ('PDR5', pdr5_cit, pdr5_ota, 8000, 1000),
    ('PDR15', pdr15_cit, pdr15_ota, 2500, 500),
    ('SNQ2', snq2_cit, snq2_ota, 14000, 2000),
    ('YOR1', yor1_cit, yor1_ota, 250, 50),
]
# pixel boxes (left, top, right, bottom) and gene-name anchor
boxes = [(149, 57.5, 519.6, 358.3), (607, 54.5, 979.5, 356),
         (158, 435, 516.5, 736.7), (600, 435, 988, 736.5)]
name_pos = [(154, 77), (623, 82), (164, 457), (622, 457)]

cit_handles, ota_handles = None, None
for (gene, cit, ota, ymax, step), box, npos in zip(panels, boxes, name_pos):
    ax = px_axes(*box)
    ax.set_xlim(0, 160)
    ax.set_ylim(0, ymax)
    ax.set_xticks(range(0, 161, 20))
    ax.set_yticks(range(0, ymax + 1, step))
    ax.set_axisbelow(True)
    ax.grid(axis='y', color='black', lw=1.4)
    ax.spines['top'].set_visible(False)
    ax.spines['right'].set_visible(False)
    ax.spines['left'].set_linewidth(1.5)
    ax.spines['bottom'].set_linewidth(1.5)
    ax.tick_params(axis='x', direction='out', length=4, width=1.5, pad=13.5, labelsize=12.5)
    ax.tick_params(axis='y', direction='out', length=4, width=1.5, pad=11, labelsize=12.5)

    hc = [draw_series(ax, v, ORANGE, s) for v, s in zip(cit, dose_style)]
    ho = [draw_series(ax, v, BLUE, s) for v, s in zip(ota, dose_style)]
    if cit_handles is None:
        cit_handles, ota_handles = hc, ho

    fig.text(npos[0] / W, 1 - npos[1] / H, gene, ha='left', va='center',
             fontsize=17, fontweight='bold', style='italic', family='Liberation Sans')

label_font = dict(fontsize=20, fontweight='bold', family='Liberation Sans',
                  ha='center', va='center')
fig.text(48 / W, 1 - 191 / H, 'Relative Light Units', rotation=90, **label_font)
fig.text(48 / W, 1 - 573 / H, 'Relative Light Units', rotation=90, **label_font)
fig.text(353 / W, 1 - 808 / H, 'Time (min)', **label_font)
fig.text(797 / W, 1 - 808 / H, 'Time (min)', **label_font)
fig.text(6 / W, 1 - 22 / H, '(a)', fontsize=22, fontweight='bold',
         family='Liberation Sans', ha='left', va='center')

leg_kw = dict(loc='upper left', frameon=False, fontsize=10.5, labelspacing=1.355,
              handlelength=2.75, handletextpad=0.35, borderpad=0, borderaxespad=0,
              numpoints=1, markerscale=0.85)
fig.legend(cit_handles, dose_labels, bbox_to_anchor=(1008 / W, 1 - 148.5 / H), **leg_kw)
fig.legend(ota_handles, dose_labels, bbox_to_anchor=(1008 / W, 1 - 426.5 / H), **leg_kw)

# group brackets
fig.add_artist(Line2D([1152 / W, 1152 / W], [1 - 148 / H, 1 - 397 / H],
                      transform=fig.transFigure, color='black', lw=2.2))
fig.add_artist(Line2D([1152 / W, 1152 / W], [1 - 423 / H, 1 - 687 / H],
                      transform=fig.transFigure, color='black', lw=2.2))
fig.text(1168 / W, 1 - 272 / H, 'CIT', rotation=270, fontsize=18, fontweight='bold',
         family='Liberation Sans', ha='center', va='center')
fig.text(1169 / W, 1 - 556 / H, 'OTA', rotation=270, fontsize=18, fontweight='bold',
         family='Liberation Sans', ha='center', va='center')

fig.savefig('out.png', dpi=100)
